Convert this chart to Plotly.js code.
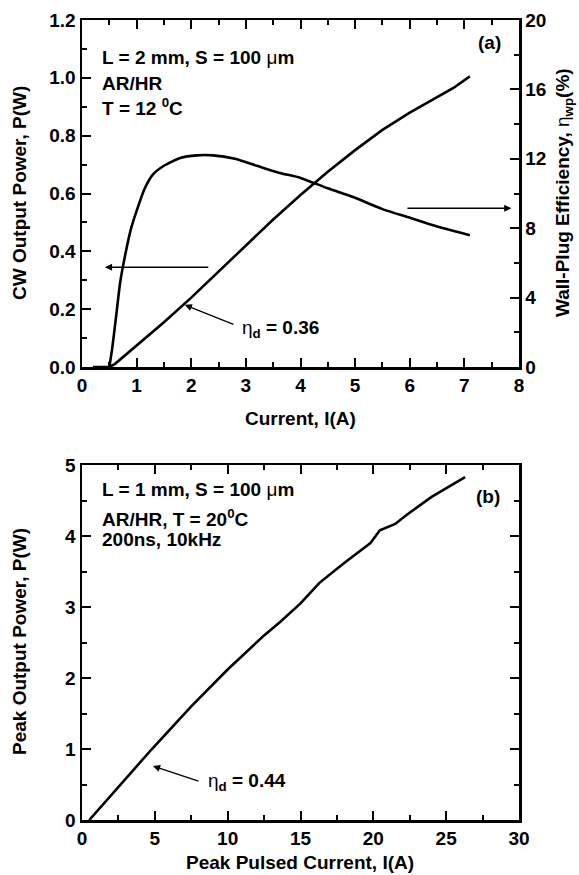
<!DOCTYPE html>
<html>
<head>
<meta charset="utf-8">
<script src="https://cdn.plot.ly/plotly-3.0.1.min.js"></script>
<style>html,body{margin:0;padding:0;background:#fff;}#chart{width:579px;height:875px;}</style>
</head>
<body>
<div id="chart"></div>
<script>
// Panel (a): CW output power vs current
const cwCurrent = [0.2, 0.5, 0.6, 1.0, 1.5, 2.0, 2.5, 3.0, 3.5, 4.0, 4.5, 5.0, 5.5, 6.0, 6.5, 6.8, 7.1];
const cwPower   = [0, 0, 0.01, 0.075, 0.155, 0.24, 0.33, 0.42, 0.51, 0.595, 0.675, 0.75, 0.82, 0.88, 0.935, 0.965, 1.005];
// Panel (a): wall-plug efficiency (%) vs current
const effCurrent = [0.5, 0.55, 0.62, 0.7, 0.8, 0.9, 1.0, 1.15, 1.3, 1.5, 1.8, 2.1, 2.4, 2.8, 3.2, 3.6, 4.0, 4.5, 5.0, 5.5, 6.0, 6.5, 7.1];
const effValue   = [0, 1.0, 2.8, 4.9, 6.6, 8.0, 9.0, 10.3, 11.1, 11.6, 12.05, 12.2, 12.2, 12.0, 11.6, 11.2, 10.9, 10.3, 9.75, 9.1, 8.6, 8.1, 7.6];
// Panel (b): peak output power vs peak pulsed current
const pulsedCurrent = [0.5, 2.0, 4.8, 7.5, 10.0, 12.5, 13.6, 15.0, 16.3, 18.0, 19.8, 20.45, 21.5, 22.3, 24.0, 26.3];
const pulsedPower   = [0, 0.35, 1.0, 1.6, 2.12, 2.6, 2.79, 3.05, 3.34, 3.62, 3.9, 4.08, 4.17, 4.3, 4.55, 4.83];

const FONT = 'Liberation Sans, Arial, sans-serif';
const black = '#000';
const TXT = 19;

const traces = [
  {x: cwCurrent, y: cwPower, xaxis: 'x', yaxis: 'y', mode: 'lines', line: {color: black, width: 2.6}, showlegend: false},
  {x: effCurrent, y: effValue, xaxis: 'x', yaxis: 'y2', mode: 'lines', line: {color: black, width: 2.6, shape: 'spline', smoothing: 0.6}, showlegend: false},
  {x: pulsedCurrent, y: pulsedPower, xaxis: 'x2', yaxis: 'y3', mode: 'lines', line: {color: black, width: 2.6}, showlegend: false}
];

const tickFont = {family: FONT, size: TXT, color: black, weight: 'bold'};
const bold = {family: FONT, size: TXT, color: black, weight: 'bold'};
function minor(d) { return {dtick: d, ticklen: 5, tickwidth: 2, ticks: 'inside', tickcolor: black}; }
function axisBase(extra) {
  return Object.assign({
    showgrid: false, zeroline: false, showline: true, linecolor: black, linewidth: 2.5,
    ticks: 'inside', ticklen: 9, tickwidth: 2, tickcolor: black,
    tickfont: tickFont, fixedrange: true, automargin: false
  }, extra);
}

// paper-y helper from panel pixel layout: plot area spans y 20..820 px
const PY = px => (820 - px) / 800;
const PX = px => (px - 82) / 437;

function label(text, x, y, angle) {
  return {xref: 'paper', yref: 'paper', x: PX(x), y: PY(y), xanchor: 'center', yanchor: 'middle',
          showarrow: false, text: text, textangle: angle || 0, font: bold};
}
function note(xr, yr, x, y, text, anchor) {
  return {xref: xr, yref: yr, x: x, y: y, xanchor: anchor || 'left', yanchor: 'middle', showarrow: false, text: text, font: bold};
}
function arrow(xr, yr, x, y, ax, ay) {
  return {xref: xr, yref: yr, axref: xr, ayref: yr, x: x, y: y, ax: ax, ay: ay, text: '',
          showarrow: true, arrowhead: 2, arrowsize: 1.1, arrowwidth: 1.3, arrowcolor: black};
}

const layout = {
  width: 579, height: 875,
  margin: {l: 82, r: 60, t: 20, b: 55},
  paper_bgcolor: '#fff', plot_bgcolor: '#fff',
  font: {family: FONT, color: black, weight: 'bold'},
  xaxis: axisBase({domain: [0, 1], anchor: 'y', range: [0, 8], dtick: 1, mirror: 'ticks', minor: minor(0.5)}),
  yaxis: axisBase({domain: [PY(367), 1], anchor: 'x', range: [0, 1.2], dtick: 0.2, tickformat: '.1f', minor: minor(0.1)}),
  yaxis2: axisBase({overlaying: 'y', side: 'right', anchor: 'x', range: [0, 20], dtick: 4, minor: minor(2)}),
  xaxis2: axisBase({domain: [0, 1], anchor: 'y3', range: [0, 30], dtick: 5, mirror: 'ticks', minor: minor(2.5)}),
  yaxis3: axisBase({domain: [0, PY(465)], anchor: 'x2', range: [0, 5], dtick: 1, mirror: 'ticks', minor: minor(0.5)}),
  annotations: [
    // axis titles
    label('Current, I(A)', 300, 418),
    label('CW Output Power, P(W)', 19, 193, -90),
    label('Wall-Plug Efficiency, <span style="font-weight:normal">η</span><sub>wp</sub>(%)', 564, 193, -90),
    label('Peak Pulsed Current, I(A)', 300, 862),
    label('Peak Output Power, P(W)', 19, 642, -90),
    // panel (a) texts
    note('x domain', 'y domain', 0.041, 0.893, 'L = 2 mm, S = 100 <span style="font-weight:normal">μ</span>m'),
    note('x domain', 'y domain', 0.041, 0.818, 'AR/HR'),
    note('x domain', 'y domain', 0.041, 0.749, 'T = 12 <sup>0</sup>C'),
    note('x domain', 'y domain', 0.963, 0.934, '(a)', 'right'),
    arrow('x', 'y', 0.42, 0.345, 2.34, 0.345),
    arrow('x', 'y2', 7.86, 9.15, 5.93, 9.15),
    arrow('x', 'y', 1.88, 0.215, 2.8, 0.145),
    note('x', 'y', 2.9, 0.13, '<span style="font-weight:normal">η</span><sub>d</sub> = 0.36'),
    // panel (b) texts
    note('x2 domain', 'y3 domain', 0.041, 0.93, 'L = 1 mm, S = 100 <span style="font-weight:normal">μ</span>m'),
    note('x2 domain', 'y3 domain', 0.041, 0.851, 'AR/HR, T = 20<sup>0</sup>C'),
    note('x2 domain', 'y3 domain', 0.041, 0.789, '200ns, 10kHz'),
    note('x2 domain', 'y3 domain', 0.961, 0.91, '(b)', 'right'),
    arrow('x2', 'y3', 4.87, 0.76, 8.1, 0.54),
    note('x2', 'y3', 8.5, 0.54, '<span style="font-weight:normal">η</span><sub>d</sub> = 0.44')
  ]
};

Plotly.newPlot('chart', traces, layout, {staticPlot: true, displayModeBar: false});
</script>
</body>
</html>
